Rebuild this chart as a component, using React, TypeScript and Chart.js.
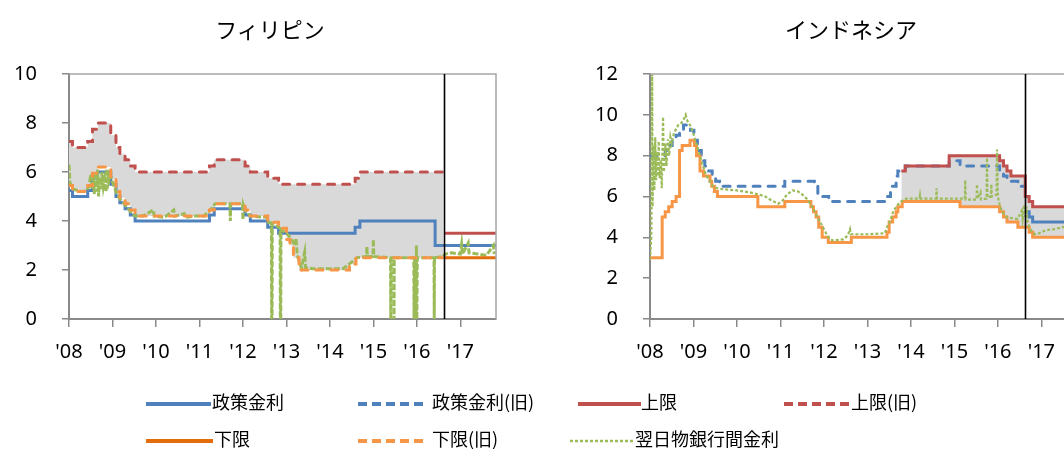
import React, { useEffect, useRef } from "react";
import { Chart, registerables } from "chart.js";

Chart.register(...registerables);

// ---- shared axis values ----
const yearTicks = [2008, 2009, 2010, 2011, 2012, 2013, 2014, 2015, 2016, 2017];
const yearLabels = ["'08", "'09", "'10", "'11", "'12", "'13", "'14", "'15", "'16", "'17"];
const xStart = 2008;
const xEnd = 2017.82;

// ---- Philippines (%) ----
const phYTicks = [0, 2, 4, 6, 8, 10];
const phSwitch = 2016.63; // corridor system start
const phOldEnd = 2016.6;

const phPolicyDates = [2008.0, 2008.08, 2008.43, 2008.54, 2008.66, 2008.96, 2009.08, 2009.17, 2009.29, 2009.41, 2009.52, 2011.23, 2011.34, 2012.05, 2012.17, 2012.57, 2012.82, 2014.58, 2014.69, 2016.42];
const phPolicyRates = [5.25, 5.0, 5.25, 5.75, 6.0, 5.5, 5.0, 4.75, 4.5, 4.25, 4.0, 4.25, 4.5, 4.25, 4.0, 3.75, 3.5, 3.75, 4.0, 3.0];

const phUpperOldDates = [2008.0, 2008.08, 2008.43, 2008.54, 2008.66, 2008.96, 2009.08, 2009.17, 2009.29, 2009.41, 2009.52, 2011.23, 2011.34, 2012.05, 2012.17, 2012.57, 2012.82, 2014.58, 2014.69];
const phUpperOldRates = [7.25, 7.0, 7.25, 7.75, 8.0, 7.5, 7.0, 6.75, 6.5, 6.25, 6.0, 6.25, 6.5, 6.25, 6.0, 5.75, 5.5, 5.75, 6.0];

const phLowerOldDates = [2008.0, 2008.08, 2008.43, 2008.54, 2008.66, 2008.96, 2009.08, 2009.17, 2009.29, 2009.41, 2009.52, 2011.23, 2011.34, 2012.05, 2012.17, 2012.57, 2012.82, 2013.0, 2013.08, 2013.16, 2013.29, 2014.45, 2014.6];
const phLowerOldRates = [5.45, 5.2, 5.45, 5.95, 6.2, 5.7, 5.2, 4.95, 4.7, 4.45, 4.2, 4.45, 4.7, 4.45, 4.2, 3.95, 3.7, 3.25, 3.0, 2.5, 2.0, 2.25, 2.5];

const phUpperDates = [phSwitch];
const phUpperRates = [3.5];
const phLowerDates = [phSwitch];
const phLowerRates = [2.5];

const phInterbankDates = [
  2008.0, 2008.02, 2008.05, 2008.1, 2008.2, 2008.3, 2008.4, 2008.46, 2008.5, 2008.53, 2008.56, 2008.58,
  2008.61, 2008.63, 2008.66, 2008.68, 2008.71, 2008.73, 2008.76, 2008.79, 2008.82, 2008.85, 2008.88, 2008.91,
  2008.95, 2009.0, 2009.08, 2009.17, 2009.29, 2009.41, 2009.52, 2009.7, 2009.94, 2009.96, 2010.2, 2010.41,
  2010.43, 2010.65, 2010.67, 2010.9, 2011.1, 2011.25, 2011.36, 2011.7, 2011.71, 2011.72, 2011.99, 2012.0,
  2012.01, 2012.05, 2012.17, 2012.55, 2012.58, 2012.655, 2012.66, 2012.67, 2012.675, 2012.82, 2012.855, 2012.86,
  2012.87, 2012.875, 2013.0, 2013.1, 2013.2, 2013.22, 2013.25, 2013.3, 2013.35, 2013.42, 2013.44, 2013.6,
  2014.0, 2014.3, 2014.45, 2014.62, 2014.84, 2014.85, 2014.86, 2014.99, 2015.0, 2015.01, 2015.395, 2015.4,
  2015.41, 2015.47, 2015.475, 2015.48, 2015.93, 2015.935, 2015.95, 2015.98, 2015.99, 2016.0, 2016.01, 2016.395,
  2016.4, 2016.405, 2016.6, 2016.65, 2016.8, 2017.0, 2017.03, 2017.05, 2017.18, 2017.2, 2017.4, 2017.6,
  2017.76, 2017.78,
];
const phInterbankRates = [
  6.3, 5.6, 5.4, 5.3, 5.25, 5.2, 5.25, 5.4, 5.9, 5.3, 5.9, 5.1,
  6.0, 5.2, 6.1, 5.0, 5.8, 5.3, 6.0, 5.4, 5.7, 5.2, 6.1, 5.6,
  5.9, 5.6, 5.2, 4.9, 4.65, 4.4, 4.2, 4.2, 4.45, 4.2, 4.15, 4.45,
  4.2, 4.3, 4.15, 4.2, 4.2, 4.45, 4.7, 4.7, 4.0, 4.7, 4.7, 4.05,
  4.65, 4.45, 4.2, 4.15, 3.95, 3.9, 0, 0, 3.9, 3.75, 3.7, 0,
  0, 3.65, 3.5, 3.3, 3.0, 3.3, 2.6, 2.3, 2.1, 2.72, 2.1, 2.05,
  2.05, 2.05, 2.25, 2.5, 2.55, 2.95, 2.55, 2.55, 3.25, 2.55, 2.5, 0,
  2.5, 2.5, 0, 2.5, 2.5, 0, 2.5, 0, 3.0, 0, 2.5, 2.5,
  0, 2.5, 2.55, 2.65, 2.7, 2.65, 3.05, 2.65, 3.1, 2.7, 2.65, 2.6,
  3.0, 2.65,
];

// ---- Indonesia (%) ----
const idYTicks = [0, 2, 4, 6, 8, 10, 12];
const idSwitch = 2016.63; // 7-day reverse repo replaces BI rate

const idPolicyOldDates = [2008.0, 2008.35, 2008.43, 2008.51, 2008.6, 2008.68, 2008.77, 2008.93, 2009.01, 2009.09, 2009.18, 2009.26, 2009.35, 2009.43, 2009.51, 2009.6, 2011.1, 2011.78, 2011.86, 2012.11, 2013.45, 2013.53, 2013.66, 2013.7, 2013.87, 2014.88, 2015.13, 2016.04, 2016.13, 2016.21, 2016.46];
const idPolicyOldRates = [8.0, 8.25, 8.5, 8.75, 9.0, 9.25, 9.5, 9.25, 8.75, 8.25, 7.75, 7.5, 7.25, 7.0, 6.75, 6.5, 6.75, 6.5, 6.0, 5.75, 6.0, 6.5, 7.0, 7.25, 7.5, 7.75, 7.5, 7.25, 7.0, 6.75, 6.5];

const idPolicyDates = [idSwitch, 2016.72, 2016.8];
const idPolicyRates = [5.25, 5.0, 4.75];

const idUpperDates = [2013.78, 2013.87, 2014.88, 2016.04, 2016.13, 2016.21, 2016.3, idSwitch, 2016.72, 2016.8];
const idUpperRates = [7.25, 7.5, 8.0, 7.75, 7.5, 7.25, 7.0, 6.0, 5.75, 5.5];

const idLowerDates = [2008.0, 2008.28, 2008.35, 2008.43, 2008.51, 2008.6, 2008.68, 2008.74, 2008.92, 2009.02, 2009.07, 2009.15, 2009.23, 2009.38, 2009.42, 2009.48, 2009.55, 2010.48, 2011.1, 2011.7, 2011.76, 2011.82, 2011.88, 2011.96, 2012.1, 2012.63, 2013.45, 2013.5, 2013.58, 2013.66, 2013.7, 2013.8, 2015.13, 2016.04, 2016.13, 2016.21, 2016.46, 2016.72, 2016.8];
const idLowerRates = [3.0, 5.0, 5.25, 5.5, 5.75, 6.0, 8.25, 8.5, 8.75, 8.5, 8.0, 7.25, 7.0, 6.75, 6.5, 6.25, 6.0, 5.5, 5.75, 5.5, 5.25, 5.0, 4.5, 4.0, 3.75, 4.0, 4.25, 4.75, 5.0, 5.25, 5.5, 5.75, 5.5, 5.25, 5.0, 4.75, 4.5, 4.25, 4.0];

const idInterbankDates = [
  2008.0, 2008.03, 2008.05, 2008.06, 2008.08, 2008.1, 2008.12, 2008.14, 2008.16, 2008.18, 2008.2, 2008.22,
  2008.25, 2008.27, 2008.3, 2008.32, 2008.35, 2008.38, 2008.41, 2008.44, 2008.47, 2008.5, 2008.55, 2008.6,
  2008.65, 2008.72, 2008.78, 2008.82, 2008.86, 2008.92, 2008.98, 2009.05, 2009.12, 2009.2, 2009.28, 2009.36,
  2009.45, 2009.55, 2009.7, 2010.0, 2010.3, 2010.5, 2010.65, 2010.8, 2010.95, 2011.05, 2011.15, 2011.28,
  2011.4, 2011.5, 2011.6, 2011.7, 2011.8, 2011.9, 2012.0, 2012.1, 2012.2, 2012.45, 2012.55, 2012.6,
  2012.62, 2013.0, 2013.4, 2013.45, 2013.52, 2013.6, 2013.7, 2013.8, 2013.9, 2014.2, 2014.21, 2014.22,
  2014.58, 2014.59, 2014.6, 2015.0, 2015.24, 2015.25, 2015.26, 2015.51, 2015.52, 2015.53, 2015.6, 2015.61,
  2015.74, 2015.75, 2015.76, 2015.84, 2015.85, 2015.86, 2015.97, 2015.98, 2016.0, 2016.05, 2016.12, 2016.2,
  2016.3, 2016.45, 2016.55, 2016.57, 2016.61, 2016.63, 2016.66, 2016.68, 2016.72, 2016.78, 2016.85, 2016.95,
  2017.1, 2017.3, 2017.5, 2017.6,
];
const idInterbankRates = [
  2.9, 4.0, 12.0, 5.5, 8.5, 6.3, 8.9, 6.8, 8.2, 7.0, 8.7, 6.9,
  7.8, 6.4, 9.9, 7.2, 8.6, 7.5, 8.8, 8.0, 8.9, 8.6, 9.1, 9.3,
  9.5, 9.6, 9.8, 10.0, 9.7, 9.5, 9.2, 8.7, 8.2, 7.6, 7.1, 6.8,
  6.5, 6.4, 6.35, 6.3, 6.2, 6.1, 6.0, 5.8, 5.65, 5.8, 6.1, 6.3,
  6.25, 6.1, 5.9, 5.6, 5.2, 4.8, 4.4, 4.0, 3.85, 3.9, 4.1, 4.4,
  4.15, 4.15, 4.2, 4.5, 4.8, 5.3, 5.6, 5.8, 5.9, 5.9, 6.05, 5.9,
  5.9, 6.4, 5.9, 5.9, 5.9, 6.8, 5.85, 5.85, 6.6, 5.9, 6.2, 5.85,
  5.9, 7.9, 5.95, 6.0, 6.6, 6.0, 6.1, 8.3, 6.0, 5.5, 5.2, 5.0,
  4.95, 4.9, 5.3, 4.9, 5.6, 5.0, 5.5, 4.8, 4.5, 4.3, 4.15, 4.2,
  4.35, 4.4, 4.5, 4.55,
];

// ---- styling ----
const FONT = "'Noto Sans', 'Noto Sans CJK JP', sans-serif";
const JP_FONT = "'Noto Sans CJK JP', 'Noto Sans', sans-serif";
const BLUE = "#4F81BD";
const RED = "#C0504D";
const ORANGE = "#F79646";
const ORANGE_DARK = "#E46C0A";
const GREEN = "#9BBB59";
const BAND = "#D9D9D9";
const AXIS = "#898989";

type Pt = { x: number; y: number };

function steps(dates: number[], rates: number[], end: number): Pt[] {
  const pts = dates.map((x, i) => ({ x, y: rates[i] }));
  pts.push({ x: end, y: rates[rates.length - 1] });
  return pts;
}

function series(dates: number[], rates: number[]): Pt[] {
  return dates.map((x, i) => ({ x, y: rates[i] }));
}

// plot frame (top/right) and the vertical regime-change marker
const framePlugin = {
  id: "plotFrame",
  afterDatasetsDraw(chart: any, _args: any, opts: any) {
    const { ctx, chartArea: a, scales } = chart;
    ctx.save();
    ctx.strokeStyle = "#A6A6A6";
    ctx.lineWidth = 1.5;
    ctx.beginPath();
    ctx.moveTo(a.left, a.top);
    ctx.lineTo(a.right, a.top);
    ctx.lineTo(a.right, a.bottom);
    ctx.stroke();
    const px = Math.round(scales.x.getPixelForValue(opts.switchAt)) + 0.5;
    ctx.strokeStyle = "#000";
    ctx.lineWidth = 1.6;
    ctx.beginPath();
    ctx.moveTo(px, a.top);
    ctx.lineTo(px, a.bottom);
    ctx.stroke();
    ctx.restore();
  },
};

function makeOptions(yTicks: number[], axisWidth: number, rightPad: number, switchAt: number) {
  const tickFont = { family: FONT, size: 20 };
  return {
    responsive: false,
    animation: false,
    events: [],
    layout: { padding: { top: 74, right: rightPad, bottom: 0, left: 0 } },
    elements: { point: { radius: 0 }, line: { tension: 0 } },
    plugins: {
      legend: { display: false },
      tooltip: { enabled: false },
      filler: { drawTime: "beforeDatasetsDraw" },
      plotFrame: { switchAt },
    },
    scales: {
      x: {
        type: "linear",
        min: xStart,
        max: xEnd,
        afterFit: (s: any) => {
          s.height = 61;
        },
        afterBuildTicks: (s: any) => {
          s.ticks = yearTicks.map((v) => ({ value: v }));
        },
        ticks: {
          autoSkip: false,
          maxRotation: 0,
          minRotation: 0,
          padding: 13,
          color: "#000",
          font: tickFont,
          callback: (v: number) => {
            const i = yearTicks.indexOf(Math.round(v));
            return i >= 0 ? yearLabels[i] : "";
          },
        },
        grid: { drawOnChartArea: false, drawTicks: true, tickLength: 8, color: AXIS, lineWidth: 1.5 },
        border: { display: true, color: AXIS, width: 2 },
      },
      y: {
        min: yTicks[0],
        max: yTicks[yTicks.length - 1],
        afterFit: (s: any) => {
          s.width = axisWidth;
        },
        afterBuildTicks: (s: any) => {
          s.ticks = yTicks.map((v) => ({ value: v }));
        },
        ticks: { padding: 25, color: "#000", font: tickFont, callback: (v: number) => String(v) },
        grid: { drawOnChartArea: false, drawTicks: true, tickLength: 7, color: AXIS, lineWidth: 1.5 },
        border: { display: true, color: AXIS, width: 2 },
      },
    },
  };
}

const dashed = [7, 8];

function philippinesConfig(): any {
  const datasets = [
    // 0: old upper bound, filled down to the old lower bound (index 3)
    {
      label: "上限(旧)",
      data: steps(phUpperOldDates, phUpperOldRates, phOldEnd),
      borderColor: RED, borderWidth: 3, borderDash: dashed, borderCapStyle: "round", stepped: true,
      fill: { target: 3, above: BAND, below: BAND }, order: 6,
    },
    {
      label: "政策金利",
      data: steps(phPolicyDates, phPolicyRates, xEnd),
      borderColor: BLUE, borderWidth: 3, stepped: true, fill: false, order: 5,
    },
    {
      label: "翌日物銀行間金利",
      data: series(phInterbankDates, phInterbankRates),
      borderColor: GREEN, borderWidth: 3, borderDash: [6, 2], fill: false, order: 4,
    },
    {
      label: "下限(旧)",
      data: steps(phLowerOldDates, phLowerOldRates, phOldEnd),
      borderColor: ORANGE, borderWidth: 3, borderDash: dashed, borderCapStyle: "round", stepped: true, fill: false, order: 3,
    },
    {
      label: "上限",
      data: steps(phUpperDates, phUpperRates, xEnd),
      borderColor: RED, borderWidth: 3, stepped: true, fill: false, order: 2,
    },
    {
      label: "下限",
      data: steps(phLowerDates, phLowerRates, xEnd),
      borderColor: ORANGE_DARK, borderWidth: 3, stepped: true, fill: false, order: 1,
    },
  ];
  return { type: "line", data: { datasets }, options: makeOptions(phYTicks, 69, 34, phSwitch), plugins: [framePlugin] };
}

function indonesiaConfig(): any {
  const datasets = [
    // 0: upper bound, filled down to the lower bound (index 1)
    {
      label: "上限",
      data: steps(idUpperDates, idUpperRates, xEnd),
      borderColor: RED, borderWidth: 3, stepped: true,
      fill: { target: 1, above: BAND, below: BAND }, order: 3,
    },
    {
      label: "下限",
      data: steps(idLowerDates, idLowerRates, xEnd),
      borderColor: ORANGE, borderWidth: 3, stepped: true, fill: false, order: 4,
    },
    {
      label: "政策金利(旧)",
      data: steps(idPolicyOldDates, idPolicyOldRates, idSwitch),
      borderColor: BLUE, borderWidth: 3, borderDash: dashed, borderCapStyle: "round", stepped: true, fill: false, order: 5,
    },
    {
      label: "政策金利",
      data: steps(idPolicyDates, idPolicyRates, xEnd),
      borderColor: BLUE, borderWidth: 3, stepped: true, fill: false, order: 2,
    },
    {
      label: "翌日物銀行間金利",
      data: series(idInterbankDates, idInterbankRates),
      borderColor: GREEN, borderWidth: 2.2, borderDash: [3, 2], fill: false, order: 1,
    },
  ];
  return { type: "line", data: { datasets }, options: makeOptions(idYTicks, 70, 33, idSwitch), plugins: [framePlugin] };
}

const legendEntries = [
  { label: "政策金利", color: BLUE, dash: "", width: 4, y: 404, x0: 146, x1: 211, tx: 212 },
  { label: "政策金利(旧)", color: BLUE, dash: "9 5", width: 4, y: 404, x0: 358, x1: 428, tx: 432 },
  { label: "上限", color: RED, dash: "", width: 4, y: 404, x0: 578, x1: 641, tx: 641 },
  { label: "上限(旧)", color: RED, dash: "9 5", width: 4, y: 404, x0: 784, x1: 851, tx: 851 },
  { label: "下限", color: ORANGE_DARK, dash: "", width: 4, y: 441, x0: 146, x1: 213, tx: 214 },
  { label: "下限(旧)", color: ORANGE, dash: "9 5", width: 4, y: 441, x0: 358, x1: 428, tx: 432 },
  { label: "翌日物銀行間金利", color: GREEN, dash: "3 2", width: 2.5, y: 441, x0: 570, x1: 634, tx: 635 },
];

function RateChart({ left, makeConfig }: { left: number; makeConfig: () => any }) {
  const ref = useRef<HTMLCanvasElement>(null);
  useEffect(() => {
    if (!ref.current) return;
    const chart = new Chart(ref.current, makeConfig());
    return () => chart.destroy();
  }, [makeConfig]);
  return (
    <canvas
      ref={ref}
      width={530}
      height={380}
      style={{ position: "absolute", left, top: 0, width: 530, height: 380, display: "block" }}
    />
  );
}

export default function App() {
  const titleStyle: React.CSSProperties = {
    position: "absolute",
    top: 13,
    transform: "translateX(-50%)",
    fontFamily: JP_FONT,
    fontSize: 22,
    lineHeight: "30px",
    color: "#000",
    whiteSpace: "nowrap",
  };
  return (
    <div
      style={{
        position: "absolute",
        left: 0,
        top: 0,
        width: 1064,
        height: 449,
        overflow: "hidden",
        background: "#fff",
      }}
    >
      <RateChart left={0} makeConfig={philippinesConfig} />
      <RateChart left={580} makeConfig={indonesiaConfig} />
      <div style={{ ...titleStyle, left: 270 }}>フィリピン</div>
      <div style={{ ...titleStyle, left: 851 }}>インドネシア</div>
      <svg width={1064} height={449} style={{ position: "absolute", left: 0, top: 0, pointerEvents: "none" }}>
        {legendEntries.map((e) => (
          <line
            key={e.label}
            x1={e.x0}
            x2={e.x1}
            y1={e.y}
            y2={e.y}
            stroke={e.color}
            strokeWidth={e.width}
            strokeDasharray={e.dash || undefined}
          />
        ))}
      </svg>
      {legendEntries.map((e) => (
        <div
          key={e.label}
          style={{
            position: "absolute",
            left: e.tx,
            top: e.y - 15,
            fontFamily: JP_FONT,
            fontSize: 18,
            lineHeight: "24px",
            color: "#000",
            whiteSpace: "nowrap",
          }}
        >
          {e.label}
        </div>
      ))}
    </div>
  );
}
